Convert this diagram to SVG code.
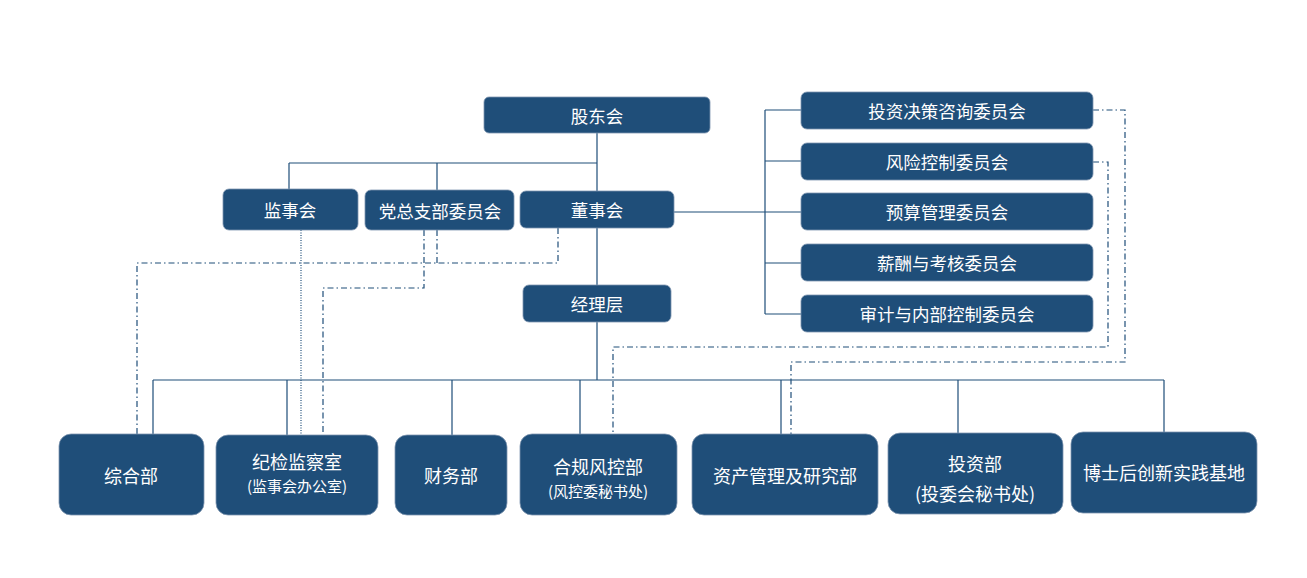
<svg xmlns="http://www.w3.org/2000/svg" width="1307" height="578" viewBox="0 0 1307 578">
<style>
.n{fill:#1f4e79;stroke:#7f96b0;stroke-width:0.8}
.t{fill:#fff;font-family:"Noto Sans CJK SC","Microsoft YaHei",sans-serif;font-size:17.5px;text-anchor:middle;dominant-baseline:central}
.b{font-size:18px}
.s{font-size:15px}
.l{stroke:#1f4e79;stroke-width:1.2;fill:none}
.d{stroke:#1f4e79;stroke-width:1.2;fill:none;stroke-dasharray:6 3 1.5 3}
.o{stroke:#1f4e79;stroke-width:1.2;fill:none;stroke-dasharray:1 1.5}
</style>
<rect width="1307" height="578" fill="#fff"/>
<g id="connectors">
<path class="l" d="M597 133V191M289 163H597M289 163V189M437 163V190"/>
<path class="l" d="M674 212H801M765 110V314M765 110H801M765 161H801M765 263H801M765 314H801"/>
<path class="l" d="M597 228V285M597 322V380M153 380H1164"/>
<path class="l" d="M153 380V434M287 380V435M452 380V435M580 380V434M781 380V434M958 380V433M1164 380V432"/>
<path class="d" d="M558 228V263H137V434"/>
<path class="d" d="M437 230V263"/>
<path class="d" d="M424 230V288H323V435"/>
<path class="o" d="M301 230V435"/>
<path class="d" d="M1093 162H1108V347H613V434"/>
<path class="d" d="M1093 110H1125V362H791V434"/>
</g>
<g id="n-gudong"><rect class="n" x="484" y="97" width="226" height="36" rx="5"/><text class="t" x="597" y="115">股东会</text></g>
<g id="n-jianshi"><rect class="n" x="223" y="189" width="135" height="41" rx="6"/><text class="t" x="290" y="209">监事会</text></g>
<g id="n-dangzongzhi"><rect class="n" x="365" y="190" width="149" height="40" rx="6"/><text class="t" x="440" y="210">党总支部委员会</text></g>
<g id="n-dongshi"><rect class="n" x="520" y="191" width="154" height="37" rx="6"/><text class="t" x="597" y="209.5">董事会</text></g>
<g id="n-jingli"><rect class="n" x="523" y="285" width="148" height="37" rx="6"/><text class="t" x="597" y="303.5">经理层</text></g>
<g id="n-c1"><rect class="n" x="801" y="92" width="292" height="37" rx="6"/><text class="t" x="947" y="110.5">投资决策咨询委员会</text></g>
<g id="n-c2"><rect class="n" x="801" y="143" width="292" height="37" rx="6"/><text class="t" x="947" y="161.5">风险控制委员会</text></g>
<g id="n-c3"><rect class="n" x="801" y="193" width="292" height="37" rx="6"/><text class="t" x="947" y="211.5">预算管理委员会</text></g>
<g id="n-c4"><rect class="n" x="801" y="244" width="292" height="37" rx="6"/><text class="t" x="947" y="262.5">薪酬与考核委员会</text></g>
<g id="n-c5"><rect class="n" x="801" y="295" width="292" height="37" rx="6"/><text class="t" x="947" y="313.5">审计与内部控制委员会</text></g>
<g id="n-zonghe"><rect class="n" x="59" y="434" width="145" height="81" rx="12"/><text class="t b" x="131" y="475">综合部</text></g>
<g id="n-jijian"><rect class="n" x="216" y="435" width="162" height="80" rx="12"/><text class="t b" x="297" y="461">纪检监察室</text><text class="t s" x="297" y="485">(监事会办公室)</text></g>
<g id="n-caiwu"><rect class="n" x="395" y="435" width="112" height="80" rx="12"/><text class="t b" x="451" y="475">财务部</text></g>
<g id="n-hegui"><rect class="n" x="520" y="434" width="157" height="81" rx="12"/><text class="t b" x="598" y="466">合规风控部</text><text class="t s" x="598" y="490">(风控委秘书处)</text></g>
<g id="n-zichan"><rect class="n" x="692" y="434" width="186" height="81" rx="12"/><text class="t b" x="785" y="475">资产管理及研究部</text></g>
<g id="n-touzi"><rect class="n" x="888" y="433" width="175" height="81" rx="12"/><text class="t b" x="975" y="463">投资部</text><text class="t b" x="975" y="493">(投委会秘书处)</text></g>
<g id="n-boshi"><rect class="n" x="1071" y="432" width="186" height="81" rx="12"/><text class="t b" x="1164" y="472">博士后创新实践基地</text></g>
</svg>
